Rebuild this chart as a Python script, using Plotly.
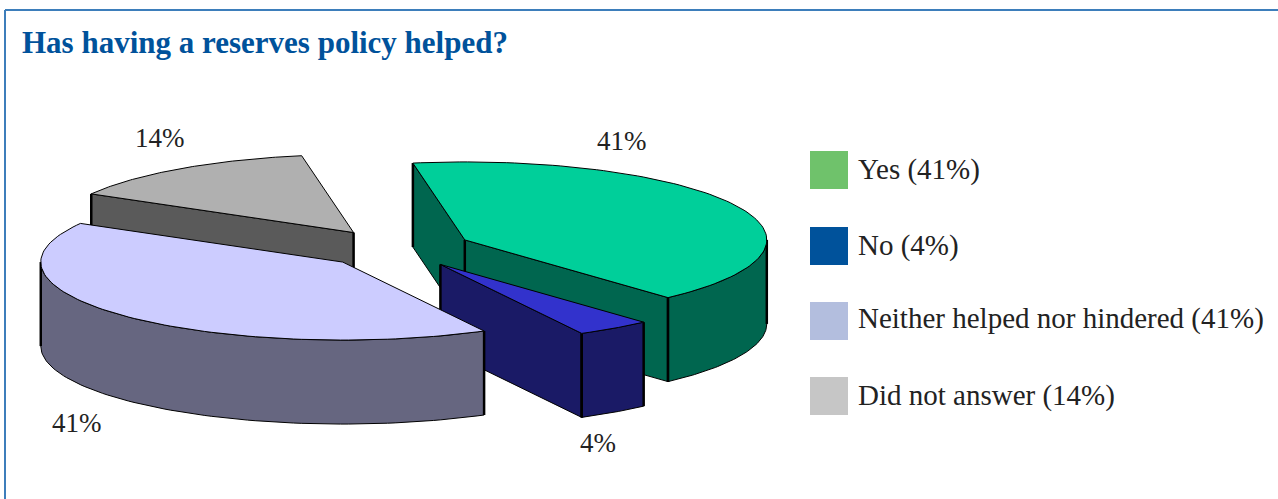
import numpy as np
import plotly.graph_objects as go

# Survey responses, in percent, clockwise from the first slice edge
categories = ["Yes", "No", "Neither helped nor hindered", "Did not answer"]
values = [41, 4, 41, 14]
top_colors = ["#00CF9A", "#3232CC", "#CCCCFF", "#B0B0B0"]
side_colors = ["#00664F", "#1A1A66", "#666680", "#5A5A5A"]
legend_colors = ["#6FC26B", "#00529B", "#B3BEDE", "#C6C6C6"]

TITLE = "Has having a reserves policy helped?"
SERIF = "Liberation Serif, serif"

# Projection of the tilted pie, in canvas pixels
WIDTH, HEIGHT = 1278, 499
CX, CY = 397, 248.5
RX, RY = 302, 78
DEPTH = 84
EXPLODE = 0.25
START_ANGLE = -9.9

# Painter's order: back slice first
draw_order = [3, 0, 1, 2]
percent_label_xy = [(622, 141), (598, 443), (77, 423), (160, 138)]
legend_y = [169, 245, 318, 395]
swatch_y = [170, 246, 321, 396]


def project(center, deg):
    t = np.radians(deg)
    return center[0] + RX * np.sin(t), center[1] - RY * np.cos(t)


def faces_viewer(normal_deg):
    return np.cos(np.radians(normal_deg)) < 0


def polygon(fig, xs, ys, color, width=1):
    fig.add_trace(go.Scatter(
        x=list(xs), y=list(ys), mode="lines", fill="toself", fillcolor=color,
        line=dict(color="black", width=width), hoverinfo="skip", showlegend=False,
    ))


def vertical_edge(fig, x, y):
    fig.add_trace(go.Scatter(
        x=[x, x], y=[y, y + DEPTH], mode="lines",
        line=dict(color="black", width=2.5), hoverinfo="skip", showlegend=False,
    ))


edges = START_ANGLE + np.cumsum([0] + values) * 360 / sum(values)
fig = go.Figure()

for i in draw_order:
    a, b = edges[i], edges[i + 1]
    mid = (a + b) / 2
    center = (CX + EXPLODE * RX * np.sin(np.radians(mid)),
              CY - EXPLODE * RY * np.cos(np.radians(mid)))
    rim_a = project(center, a)
    rim_b = project(center, b)

    # Flat radial walls that turn towards the viewer
    if faces_viewer(a - 90):
        polygon(fig, [center[0], rim_a[0], rim_a[0], center[0], center[0]],
                [center[1], rim_a[1], rim_a[1] + DEPTH, center[1] + DEPTH, center[1]],
                side_colors[i])
        vertical_edge(fig, *rim_a)
    if faces_viewer(b + 90):
        polygon(fig, [center[0], rim_b[0], rim_b[0], center[0], center[0]],
                [center[1], rim_b[1], rim_b[1] + DEPTH, center[1] + DEPTH, center[1]],
                side_colors[i])
        vertical_edge(fig, *rim_b)
    if faces_viewer(a - 90) or faces_viewer(b + 90):
        vertical_edge(fig, *center)

    # Curved outer wall on the front half of the rim
    lo, hi = max(a, 90), min(b, 270)
    if lo < hi:
        t = np.linspace(lo, hi, 80)
        rim_x, rim_y = project(center, t)
        polygon(fig, np.r_[rim_x, rim_x[::-1], rim_x[0]],
                np.r_[rim_y, rim_y[::-1] + DEPTH, rim_y[0]], side_colors[i])
        for deg in (lo, hi):
            vertical_edge(fig, *project(center, deg))

    # Top face of the slice
    t = np.linspace(a, b, 100)
    rim_x, rim_y = project(center, t)
    polygon(fig, np.r_[center[0], rim_x, center[0]],
            np.r_[center[1], rim_y, center[1]], top_colors[i])

# Legend swatches
fig.add_trace(go.Scatter(
    x=[829] * len(categories), y=swatch_y, mode="markers",
    marker=dict(symbol="square", size=38, color=legend_colors, line=dict(width=0)),
    hoverinfo="skip", showlegend=False,
))

annotations = [dict(x=20, y=42, text=f"<b>{TITLE}</b>", xanchor="left", yanchor="middle",
                    showarrow=False, font=dict(family=SERIF, size=31, color="#00529B"))]
for i, name in enumerate(categories):
    annotations.append(dict(x=856, y=legend_y[i], text=f"{name} ({values[i]}%)",
                            xanchor="left", yanchor="middle", showarrow=False,
                            font=dict(family=SERIF, size=29, color="#222222")))
    lx, ly = percent_label_xy[i]
    annotations.append(dict(x=lx, y=ly, text=f"{values[i]}%", xanchor="center",
                            yanchor="middle", showarrow=False,
                            font=dict(family=SERIF, size=27, color="#222222")))

frame = dict(type="line", line=dict(color="#3D7EBB", width=2))
fig.update_layout(
    width=WIDTH, height=HEIGHT, margin=dict(l=0, r=0, t=0, b=0),
    paper_bgcolor="white", plot_bgcolor="white", showlegend=False,
    xaxis=dict(range=[0, WIDTH], visible=False, fixedrange=True),
    yaxis=dict(range=[HEIGHT, 0], visible=False, fixedrange=True),
    annotations=annotations,
    shapes=[dict(x0=5, x1=WIDTH, y0=10, y1=10, **frame),
            dict(x0=5, x1=5, y0=10, y1=HEIGHT, **frame)],
)

fig.write_html("out.html", config=dict(displayModeBar=False))
